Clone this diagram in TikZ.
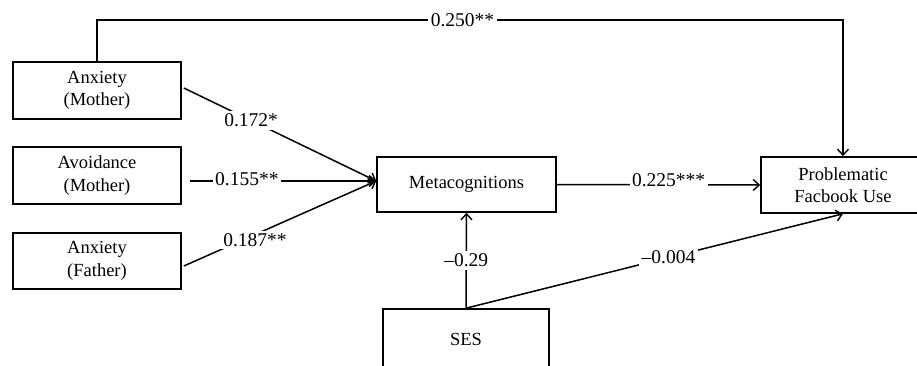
\documentclass[tikz,border=0pt]{standalone}
\usepackage{fontspec}
\setmainfont{Liberation Serif}
\usetikzlibrary{arrows.meta}
\begin{document}
\begin{tikzpicture}[x=1pt,y=-1pt,
  box/.style={draw, line width=1.6pt, minimum width=#1, inner sep=0pt, align=center,
    font=\fontsize{18.5}{22.5}\selectfont},
  box/.default=168pt,
  conn/.style={line width=1.5pt},
  arr/.style={conn, -{Straight Barb[length=6pt,width=11pt,line width=1.4pt]}},
  lbl/.style={fill=white, inner sep=2.5pt, font=\fontsize{19.5}{22}\selectfont}]
\useasboundingbox[fill=white] (0,0) rectangle (917,365);
\node[box, minimum height=57pt] (am) at (97,90.5) {Anxiety\\(Mother)};
\node[box, minimum height=57pt] (av) at (97,175.5) {Avoidance\\(Mother)};
\node[box, minimum height=56pt] (af) at (97,261) {Anxiety\\(Father)};
\node[box=179pt, minimum height=55pt] (meta) at (466.5,184.5) {Metacognitions};
\node[box=164pt, minimum height=56pt] (pfu) at (843,185) {Problematic\\Facbook Use};
\node[box=166pt, minimum height=60pt] (ses) at (466,339) {SES};
\coordinate (top) at (0,20);
\draw[arr] (am.north) -- (am.north |- top) -- node[lbl, pos=0.49]{0.250**} (pfu.north |- top) -- (pfu.north);
\draw[arr] ([xshift=2pt,yshift=2.5pt]am.east) -- node[lbl, pos=0.35]{0.172*} ([yshift=3.5pt]meta.west);
\draw[arr] ([xshift=8pt,yshift=-5.5pt]av.east) -- node[lbl, pos=0.306, yshift=2pt]{0.155**} ([yshift=3.5pt]meta.west);
\draw[arr] ([xshift=2pt,yshift=-5pt]af.east) -- node[lbl, pos=0.37, yshift=-5.5pt]{0.187**} ([yshift=3.5pt]meta.west);
\draw[arr] (meta.east) -- node[lbl, pos=0.55, yshift=5pt]{0.225***} (pfu.west);
\draw[arr] (ses.north) -- node[lbl, pos=0.5]{--0.29} (meta.south);
\draw[arr] (ses.north) -- node[lbl, pos=0.537]{--0.004} (pfu.south);
\end{tikzpicture}
\end{document}
